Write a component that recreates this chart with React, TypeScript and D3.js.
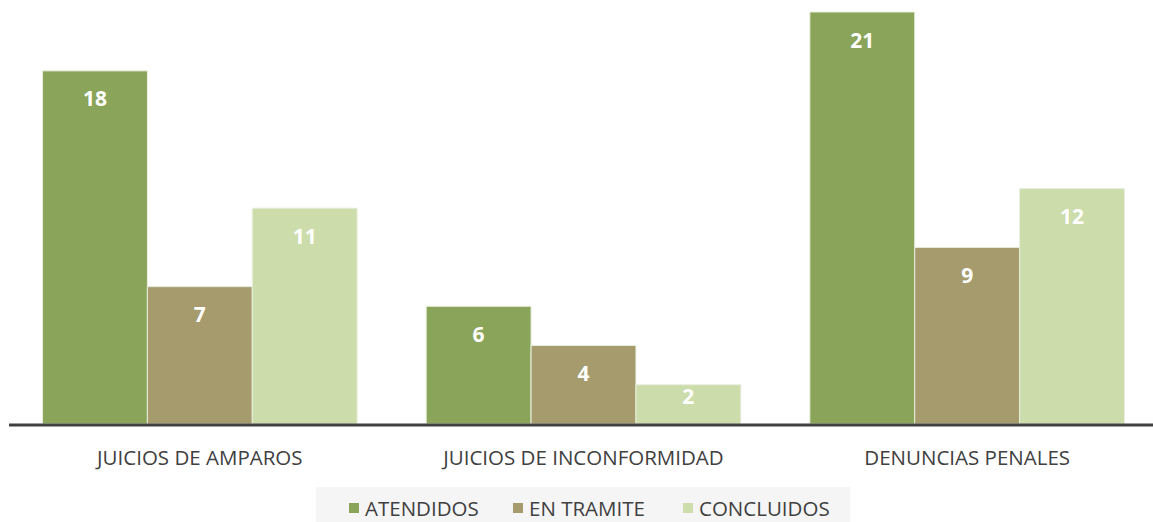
import React, { useEffect, useRef } from 'react';
import * as d3 from 'd3';

const categories = ['JUICIOS DE AMPAROS', 'JUICIOS DE INCONFORMIDAD', 'DENUNCIAS PENALES'];
const seriesNames = ['ATENDIDOS', 'EN TRAMITE', 'CONCLUIDOS'];
const atendidos = [18, 6, 21];
const enTramite = [7, 4, 9];
const concluidos = [11, 2, 12];
const colors = ['#8aa55a', '#a59b6d', '#ccdcab'];

const App: React.FC = () => {
  const svgRef = useRef<SVGSVGElement>(null);

  useEffect(() => {
    if (!svgRef.current) return;
    const svg = d3.select(svgRef.current);
    svg.selectAll('*').remove();

    const width = 1153;
    const height = 522;
    const baseline = 424;
    const font = "'Open Sans', 'Liberation Sans', sans-serif";
    const values = [atendidos, enTramite, concluidos];

    const x = d3.scaleBand<string>()
      .domain(categories)
      .range([8, 1159])
      .paddingInner(0.18)
      .paddingOuter(0.09);

    const xInner = d3.scaleBand<string>()
      .domain(seriesNames)
      .range([0, x.bandwidth()]);

    const y = d3.scaleLinear().domain([0, 21]).range([baseline, 12]);

    svg.attr('width', width).attr('height', height);

    // Bars
    const groups = svg.selectAll('g.grp')
      .data(categories)
      .enter()
      .append('g')
      .attr('class', 'grp')
      .attr('transform', d => `translate(${x(d)},0)`);

    groups.each(function (cat, ci) {
      const g = d3.select(this);
      seriesNames.forEach((s, si) => {
        const v = values[si][ci];
        const barH = y(0) - y(v);
        g.append('rect')
          .attr('x', xInner(s)!)
          .attr('y', y(v))
          .attr('width', xInner.bandwidth())
          .attr('height', barH)
          .attr('fill', colors[si])
          .attr('stroke', '#e8eedc')
          .attr('stroke-width', 1);
        // label centre sits ~28px under the top, less when the bar is short
        const off = Math.min(28, barH / 2 - 8);
        g.append('text')
          .attr('x', xInner(s)! + xInner.bandwidth() / 2)
          .attr('y', y(v) + off)
          .attr('dy', '0.36em')
          .attr('text-anchor', 'middle')
          .attr('fill', '#ffffff')
          .style('font-family', font)
          .style('font-weight', 'bold')
          .style('font-size', '21px')
          .text(v);
      });
    });

    // Axis line
    svg.append('line')
      .attr('x1', 9)
      .attr('x2', width)
      .attr('y1', baseline + 1)
      .attr('y2', baseline + 1)
      .attr('stroke', '#404040')
      .attr('stroke-width', 3);

    // Category labels
    svg.selectAll('text.cat')
      .data(categories)
      .enter()
      .append('text')
      .attr('class', 'cat')
      .attr('x', d => x(d)! + x.bandwidth() / 2)
      .attr('y', 465)
      .attr('text-anchor', 'middle')
      .attr('fill', '#404040')
      .style('font-family', font)
      .style('font-size', '20.5px')
      .text(d => d);

    // Legend
    svg.append('rect')
      .attr('x', 316)
      .attr('y', 487)
      .attr('width', 534)
      .attr('height', 35)
      .attr('fill', '#f5f5f5');

    const legendX = [349, 513, 683];
    seriesNames.forEach((s, i) => {
      svg.append('rect')
        .attr('x', legendX[i])
        .attr('y', 503)
        .attr('width', 10)
        .attr('height', 10)
        .attr('fill', colors[i]);
      svg.append('text')
        .attr('x', legendX[i] + 16)
        .attr('y', 516)
        .attr('fill', '#404040')
        .style('font-family', font)
        .style('font-size', '20.5px')
        .text(s);
    });
  }, []);

  return <svg ref={svgRef} style={{ position: 'absolute', left: 0, top: 0 }}></svg>;
};

export default App;
